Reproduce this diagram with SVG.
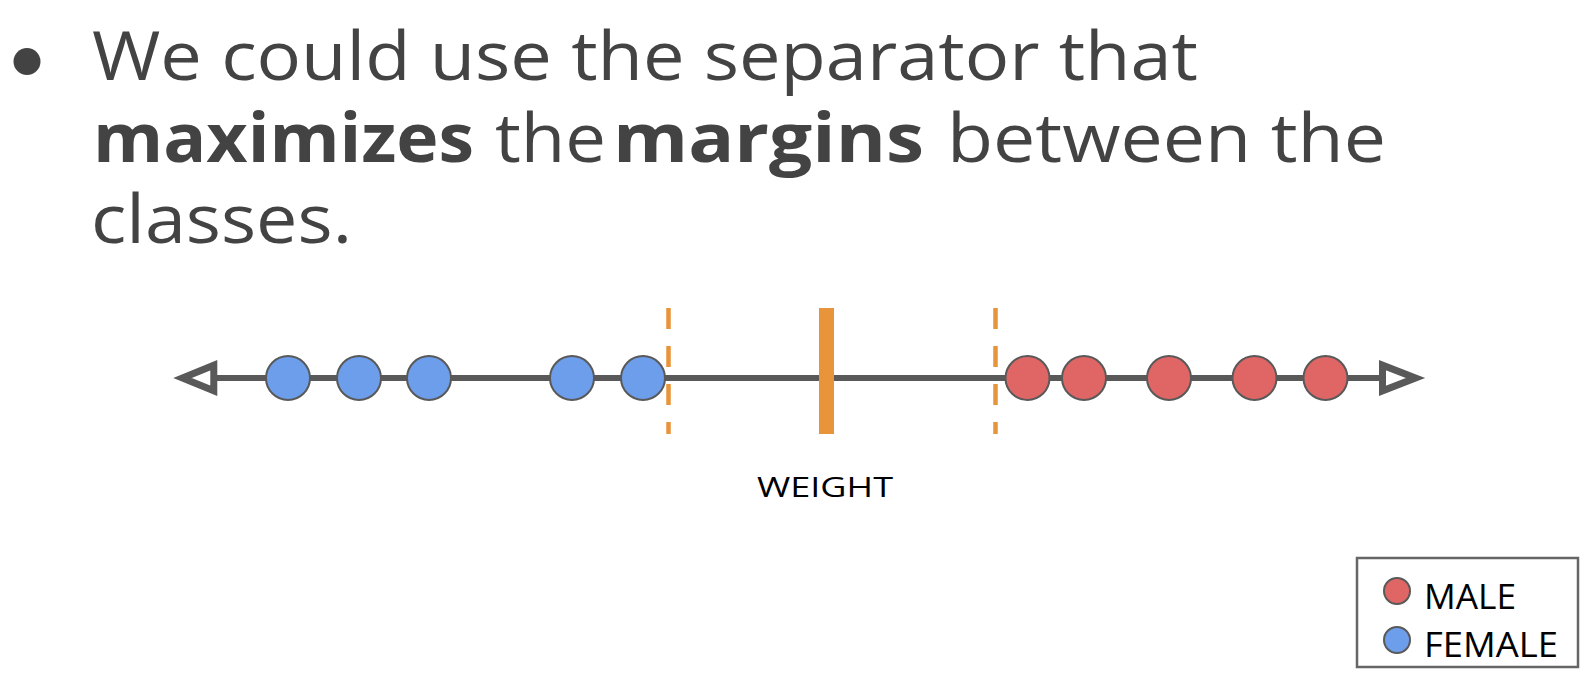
<svg xmlns="http://www.w3.org/2000/svg" width="1595" height="685" viewBox="0 0 1595 685">
<style>
.title{font-family:"Open Sans","Liberation Sans",sans-serif;font-size:68px;fill:#434343}
.b{font-weight:bold}
.lbl{font-family:"Open Sans","Liberation Sans",sans-serif;fill:#000}
.female{fill:#6d9eeb;stroke:#595959;stroke-width:2}
.male{fill:#e06666;stroke:#595959;stroke-width:2}
.dash{stroke:#e8943a;stroke-width:4.5;stroke-dasharray:21 17;fill:none}
.arrow{fill:#fff;stroke:#595959;stroke-width:7;stroke-linejoin:miter;stroke-miterlimit:10}
</style>
<rect width="1595" height="685" fill="#fff"/>
<g id="bullet-text">
<circle cx="27" cy="61.5" r="13.5" fill="#434343"/>
<text class="title" x="92" y="80" textLength="1106" lengthAdjust="spacingAndGlyphs">We could use the separator that</text>
<text class="title b" x="93" y="162" textLength="381" lengthAdjust="spacingAndGlyphs">maximizes</text>
<text class="title" x="495" y="162" textLength="111" lengthAdjust="spacingAndGlyphs">the</text>
<text class="title b" x="613" y="162" textLength="311" lengthAdjust="spacingAndGlyphs">margins</text>
<text class="title" x="947" y="162" textLength="439" lengthAdjust="spacingAndGlyphs">between the</text>
<text class="title" x="91" y="243" textLength="261" lengthAdjust="spacingAndGlyphs">classes.</text>
</g>
<g id="connectors">
<line x1="214" y1="378" x2="1383" y2="378" stroke="#595959" stroke-width="6"/>
<polygon class="arrow" points="182.5,378 213.8,365.2 213.8,390.8"/>
<polygon class="arrow" points="1415.5,378 1382.5,365.2 1382.5,390.8"/>
</g>
<g id="margins">
<line class="dash" x1="668.5" y1="308" x2="668.5" y2="434"/>
<line class="dash" x1="995.5" y1="308" x2="995.5" y2="434"/>
<rect id="separator" x="819" y="308" width="15" height="126" fill="#e8943a"/>
</g>
<g id="female-points">
<circle class="female" cx="288" cy="378" r="22"/>
<circle class="female" cx="359" cy="378" r="22"/>
<circle class="female" cx="429" cy="378" r="22"/>
<circle class="female" cx="572" cy="378" r="22"/>
<circle class="female" cx="643" cy="378" r="22"/>
</g>
<g id="male-points">
<circle class="male" cx="1027.5" cy="378" r="22"/>
<circle class="male" cx="1084" cy="378" r="22"/>
<circle class="male" cx="1169" cy="378" r="22"/>
<circle class="male" cx="1254.5" cy="378" r="22"/>
<circle class="male" cx="1325.5" cy="378" r="22"/>
</g>
<g id="axis-label">
<text class="lbl" x="757" y="497" font-size="28" textLength="136" lengthAdjust="spacingAndGlyphs">WEIGHT</text>
</g>
<g id="legend">
<rect x="1357" y="558" width="221" height="109" fill="#fff" stroke="#666" stroke-width="2.5"/>
<circle class="male" cx="1397" cy="591" r="13"/>
<circle class="female" cx="1397" cy="640" r="13"/>
<text class="lbl" x="1424" y="609" font-size="35" textLength="92" lengthAdjust="spacingAndGlyphs">MALE</text>
<text class="lbl" x="1424" y="657" font-size="35" textLength="134" lengthAdjust="spacingAndGlyphs">FEMALE</text>
</g>
</svg>
